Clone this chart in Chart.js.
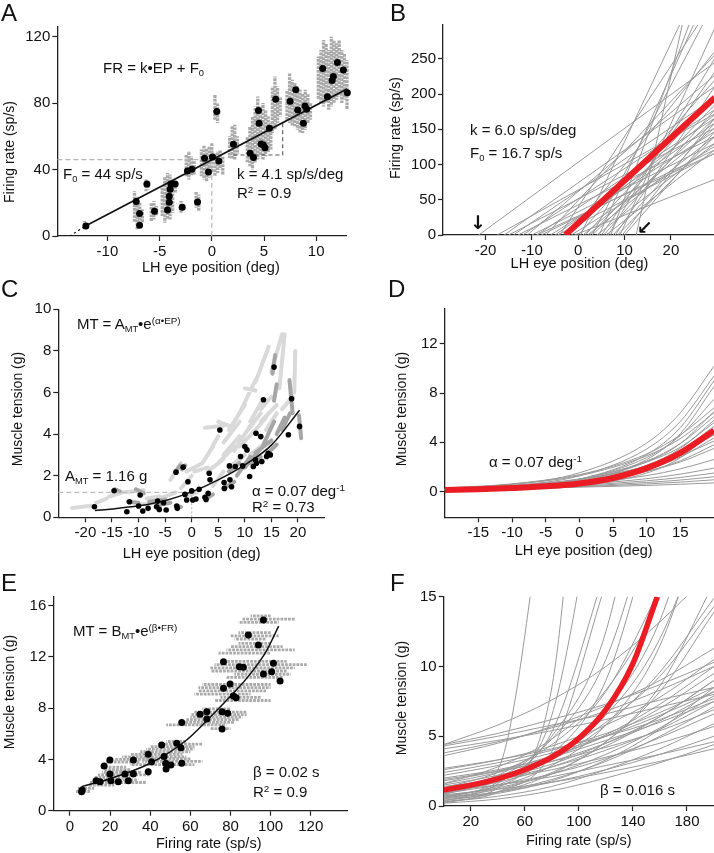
<!DOCTYPE html>
<html><head><meta charset="utf-8">
<script src="https://cdn.jsdelivr.net/npm/chart.js@4"></script>
<style>
html,body{margin:0;padding:0;background:#fff}
body{width:714px;height:853px;position:relative;overflow:hidden;font-family:"Liberation Sans",Arial,sans-serif;color:#111}
canvas{position:absolute}
.t{position:absolute;white-space:nowrap;line-height:18px;font-size:15px;transform:translateY(-50%)}
.lbl{position:absolute;font-size:24px;line-height:24px}
.yt{position:absolute;white-space:nowrap;font-size:14px;transform:translate(-50%,-50%) rotate(-90deg)}
.xt{position:absolute;white-space:nowrap;font-size:14.5px;transform:translate(-50%,-50%)}
.ar{position:absolute;font-family:"DejaVu Sans",sans-serif;font-size:19px;line-height:19px;font-weight:bold;transform:translate(-50%,-50%)}
sub{font-size:0.62em;vertical-align:-0.3em;line-height:0}
sup{font-size:0.66em;vertical-align:0.55em;line-height:0}
</style></head><body>
<canvas id="cA"></canvas><canvas id="cB"></canvas><canvas id="cC"></canvas>
<canvas id="cD"></canvas><canvas id="cE"></canvas><canvas id="cF"></canvas>
<script>
// ---------------- Panel A data ----------------
const aTicksX = [-10, -5, 0, 5, 10];
const aTicksY = [0, 40, 80, 120];
const aDotX = [-12.06,-7.24,-6.92,-6.92,-6.22,-5.49,-4.24,-4.08,-4.08,-3.99,-3.92,-3.51,-2.84,-2.33,-1.91,-1.37,-0.70,-0.32,0.06,0.48,0.67,2.07,3.67,3.99,4.47,4.53,4.72,4.94,5.10,5.52,6.12,7.50,8.04,8.23,8.77,8.93,9.09,10.62,11.07,11.52,11.64,12.03,12.60,12.98,12.98,13.49];
const aDotY = [6.0,20.7,13.5,6.4,31.3,14.9,15.7,20.3,23.9,28.1,31.3,31.3,17.3,39.2,40.2,20.5,46.8,38.6,47.6,74.9,45.2,55.2,49.8,47.2,75.5,67.9,55.4,54.8,53.2,64.9,82.3,81.1,88.0,75.9,67.9,78.3,76.3,100.8,83.9,93.6,96.0,104.4,100.0,86.3,89.6,96.8];
const aGrayStrips = [ // [eye position, low FR, high FR]
[-12.2,4,9],[-11.95,5,8],
[-7.4,8,27],[-7.15,4,24],[-6.9,6,20],[-6.65,8,16],[-6.3,27,34],[-6.1,28,33],
[-5.8,9,20],[-5.55,10,21],[-5.3,12,18],
[-4.75,12,30],[-4.5,8,36],[-4.25,10,38],[-4.0,10,37],[-3.75,14,34],[-3.5,26,33],
[-2.95,14,21],[-2.7,15,19],[-2.45,36,49],[-2.2,34,51],[-1.95,36,48],[-1.7,37,45],
[-1.5,17,27],[-1.25,15,25],
[-1.0,36,52],[-0.75,34,55],[-0.5,33,53],[-0.25,35,54],[0.0,38,56],
[0.3,70,85],[0.55,68,80],[0.3,36,50],[0.55,38,51],[0.8,40,52],[1.05,37,48],
[1.7,47,60],[1.95,46,66],[2.2,46,67],[2.45,49,60],
[3.4,44,60],[3.65,42,66],[3.9,40,72],[4.15,44,78],[4.4,46,84],[4.65,48,78],[4.9,46,80],[5.15,48,76],[5.4,50,72],[5.65,52,68],
[5.8,62,90],[6.05,64,96],[6.3,68,90],[6.55,72,84],
[7.2,70,88],[7.45,68,98],[7.7,66,94],[7.95,66,92],[8.2,64,90],[8.45,62,88],[8.7,62,86],[8.95,64,88],[9.2,68,86],[9.45,70,80],
[10.2,82,108],[10.45,80,112],[10.7,78,118],[10.95,80,116],[11.2,76,112],[11.45,78,120],[11.7,80,118],[11.95,82,116],[12.2,84,118],[12.45,80,112],[12.7,82,110],[12.95,76,106]
];
const aFitX = [-12.1, 13.1];
const aFitY = [6, 89];
const aExtX = [-13.6, -12.1];
const aExtY = [0, 6];
const aRefHX = [-14.8, 0], aRefHY = [46, 46];
const aRefVX = [0, 0], aRefVY = [0, 46];
const aTriX = [2.07, 6.79, 6.79], aTriY = [48.8, 48.8, 67.9];

// ---------------- Panel B data ----------------
const bTicksX = [-20, -10, 0, 10, 20];
const bTicksY = [0, 50, 100, 150, 200, 250];
const bStartX = [-21.5,-17.5,-16,-15,-14,-13,-12,-11,-10,-9,-9,-8,-7,-6,-5,-4.5,-4,-3,-2,-1.5,-0.8,0,0.5,1,1.5,2,2.5,3,3,4,4.5,5,5.5,6,6.5,7,7.5,8,8.5,9,9.5,10,12.5];
const bEndX = [29.5,29.5,29.5,29.5,29.5,29.5,29.5,29.5,29.5,29.5,29.5,29.5,29.5,29.5,29.5,29.5,26,29.5,29.5,29.5,29.5,29.5,22,29.5,29.5,29.5,29.5,27,29.5,29.5,25,29.5,29.5,29.5,29.5,24,29.5,29.5,29.5,29.5,29.5,29.5,22.5];
const bEndY = [245,172,211,152,195,140,178,227,130,166,116,121,256,147,159,116,300,171,261,126,79,220,300,152,197,140,185,300,166,130,300,232,178,121,251,300,159,211,140,294,166,147,300];
const bMeanX = [-2.8, 29.5];
const bMeanY = [0, 195];

// ---------------- Panel C data ----------------
const cTicksX = [-20, -15, -10, -5, 0, 5, 10, 15, 20];
const cTicksY = [0, 2, 4, 6, 8, 10];
const cDotX = [-18.3,-14.6,-12.2,-11.7,-9.7,-10.0,-9.2,-8.2,-6.6,-6.4,-6.1,-5.3,-4.8,-2.95,-2.8,-2.7,-1.6,-1.26,-0.7,0,0.2,-0.94,0.8,1.4,2.5,2.7,3.3,3.45,3.1,5.3,6.1,6.15,7.1,7.2,7.5,8.2,9.2,9.6,10.0,10.4,10.9,11.6,12.0,12.1,12.2,13.0,13.2,13.5,14.1,14.4,14.8,15.5,18.2,18.8,20.3];
const cDotY = [0.51,1.28,0.27,0.75,1.07,0.54,0.30,0.43,0.51,0.78,0.38,0.70,0.35,2.17,0.54,0.43,2.41,1.1,1.71,1.27,0.83,0.83,0.88,1.35,0.96,0.86,2.12,1.80,1.15,4.2,1.67,1.39,2.47,1.8,1.47,2.44,2.92,2.47,3.40,3.24,1.96,2.44,2.76,4.04,2.6,3.88,2.68,5.65,2.92,3.08,3.0,7.22,3.97,5.70,4.37];
const cFitX = [-18.2,-15,-10,-5,0,5,10,15,20.3];
const cFitY = [0.33,0.40,0.55,0.80,1.22,1.80,2.52,3.47,5.15];
const cLightSegs = [ // [x0,y0,x1,y1]
[-22.5,0.45,-19,0.55],[-18,0.7,-16,0.9],[-15.5,1.0,-13,1.2],[-12.5,1.2,-9,1.3],[-10,0.6,-7,0.7],
[-8.5,0.9,-6,1.0],[-6,0.9,-3,1.2],[-4,1.8,-2,2.6],[-2,1.4,0,2.0],[-1,1.0,1,1.2],[-1,2.2,2,2.6],
[0.5,2.2,3,2.4],[2,2.6,4,3.4],[3,3.0,5,3.9],[2.5,4.3,6,4.4],[5,4.6,8,4.3],[4,1.5,6,2.2],[3,2.2,6,2.8],
[5,2.6,8,3.4],[6,3.0,9,3.9],[6,3.6,9,4.6],[7,4.2,10,5.4],[8,3.2,11,4.4],[7,2.4,10,3.0],
[9,3.4,12,4.2],[10,4.0,13,5.0],[11,3.0,14,3.6],[12,4.2,14,4.8],[13,4.6,16,5.4],
[9,5.0,12,6.6],[10,6.2,12,6.1],[11,4.6,13,5.5],[12,6.5,14.5,8.2],[13,5.2,15,5.8],
[15,7.0,17,8.8],[16.5,6.2,17.5,8.8],[19.3,6.0,19.5,8.0],[17,5.2,19,5.8],[14,4.2,16,5.0]
];
const cDarkSegs = [
[-10.5,1.35,-9,1.15],[-14.5,1.35,-13.5,1.25],[-12,0.75,-10,0.7],[-8,0.75,-5,0.85],[-6,0.6,-4,0.7],
[-3,0.55,-2,0.5],[-3,2.2,-2.2,2.5],[-1.8,2.3,-1.2,2.5],[2.8,0.9,4,1.1],[6,1.4,8,1.7],
[7,2.2,9,2.6],[8.5,2.0,11,2.9],[10,2.4,13,3.3],[11,2.6,13,2.9],[12,3.1,15,3.7],[13.5,3.5,15.5,4.6],
[14,3.0,16,3.5],[16,4.0,17.5,4.8],[17,4.2,18.5,5.0],[15.5,5.6,16,6.4],[15.2,6.9,15.7,7.8],
[18.4,6.6,19,5.0],[20.2,4.9,20.6,3.8]
];
const cRefHX = [-25.1, 0], cRefHY = [1.2, 1.2];
const cRefVX = [0, 0], cRefVY = [0, 1.2];

// ---------------- Panel D data ----------------
const dTicksX = [-15, -10, -5, 0, 5, 10, 15];
const dTicksY = [0, 4, 8, 12];
const dX = [-20, -10, 0, 10, 15, 20];
const dCurves = [
[0.23,0.59,1.52,3.94,6.4,10.2],[0.17,0.47,1.27,3.46,5.7,9.4],[0.11,0.33,1.0,3.0,5.2,9.0],
[0.07,0.23,0.78,2.6,4.7,8.55],[0.14,0.37,1.0,2.76,4.55,7.5],[0.28,0.62,1.37,3.05,4.6,6.8],
[0.12,0.32,0.88,2.4,3.9,6.5],[0.26,0.58,1.29,2.9,4.3,6.4],[0.17,0.41,1.0,2.48,3.9,6.1],
[0.11,0.29,0.78,2.13,3.5,5.8],[0.18,0.43,1.0,2.4,3.6,5.6],[0.12,0.31,0.79,2.05,3.3,5.3],
[0.04,0.14,0.45,1.5,2.74,5.0],[0.09,0.24,0.65,1.77,2.9,4.8],[0.19,0.42,0.93,2.07,3.1,4.6],
[0.12,0.29,0.72,1.77,2.8,4.35],[0.25,0.5,1.01,2.04,2.9,4.1],[0.13,0.3,0.69,1.63,2.5,3.8],
[0.17,0.37,0.78,1.65,2.4,3.5],[0.16,0.32,0.64,1.29,1.84,2.6],[0.17,0.31,0.57,1.04,1.41,1.9],
[0.17,0.29,0.5,0.87,1.14,1.5],[0.16,0.27,0.44,0.73,0.93,1.2],[0.16,0.25,0.39,0.61,0.76,0.95],
[0.17,0.25,0.35,0.49,0.59,0.7]
];
const dMeanX = [-20,-15,-10,-5,0,5,10,15,20];
const dMeanY = [0.12,0.18,0.28,0.42,0.65,1.1,1.9,3.15,4.95];

// ---------------- Panel E data ----------------
const eTicksX = [0, 20, 40, 60, 80, 100, 120];
const eTicksY = [0, 4, 8, 12, 16];
const eDotX = [5.8,6.1,13.0,15.0,17.0,19.9,19.9,20.4,24.1,27.4,29.1,31.6,31.6,39.0,39.0,40.7,45.7,46.9,47.7,47.9,50.3,53.2,55.3,55.7,55.7,64.8,68.2,68.2,75.8,75.8,78.6,76.5,76.5,79.8,81.4,82.8,84.4,86.4,88.9,93.9,96.4,96.4,100.5,101.4,104.7];
const eDotY = [1.48,1.61,2.34,2.26,3.49,3.95,2.86,2.34,2.26,2.86,2.34,3.95,2.86,4.40,3.04,3.82,5.13,4.22,3.70,3.25,3.57,5.26,4.92,3.70,6.89,7.52,7.73,7.16,7.73,6.37,7.60,9.55,11.63,9.89,8.95,8.82,11.24,11.19,13.71,12.93,14.88,10.67,10.85,11.50,10.12];
const eGrayStrips = [ // [tension, low FR, high FR]
[1.5,3,10],[1.75,4,12],[2.0,9,22],[2.2,10,38],[2.4,12,34],[2.6,12,30],[2.8,14,40],[3.0,16,36],[3.2,17,30],[3.4,16,28],
[3.6,30,62],[3.8,18,35],[3.85,36,66],[4.0,22,40],[4.05,36,60],[4.2,26,58],[4.4,30,56],[4.6,35,60],[4.8,38,62],[5.0,40,62],
[5.2,44,66],[5.4,48,58],[6.4,70,80],[6.7,48,78],[6.9,55,82],[7.1,58,84],[7.3,60,86],[7.5,60,88],[7.7,62,88],[7.95,66,80],
[8.6,72,100],[8.85,75,95],[9.1,62,90],[9.35,64,98],[9.6,64,100],[9.85,66,100],[10.4,78,106],[10.65,82,110],
[10.9,70,108],[11.15,70,112],[11.4,72,118],[11.65,78,108],[12.3,74,100],[12.55,78,112],[12.8,80,106],[13.05,84,100],
[13.4,82,98],[13.65,80,104],[13.9,84,100],[14.7,84,104],[14.95,86,112],[15.2,90,100]
];
const eFitX = [5.8,20,40,58,68,81,90,98,104];
const eFitY = [1.88,2.5,3.7,5.5,7.0,9.1,10.7,12.5,14.4];

// ---------------- Panel F data ----------------
const fTicksX = [20, 60, 100, 140, 180];
const fTicksY = [0, 5, 10, 15];
const fX = [0, 40, 80, 120, 160, 200];
const fCurves = [
[4.4,5.2,6.2,7.3,8.7,10.3],[4.3,5.0,5.8,6.6,7.6,8.5],[4.1,4.7,5.4,6.2,7.1,8.0],[3.8,4.6,5.6,6.8,8.3,10.0],
[3.6,4.5,5.7,7.2,9.0,11.3],[4.4,5.8,7.6,10,13.2,17],
[0.35,2.6,26],[0.2,1.3,8.5,55],[0.5,1.6,6.5,27],[0.6,1.7,5.3,17],[0.3,1.0,3.9,16],
[0.8,2.0,5.0,12.5,31],[1.0,2.2,4.8,10.5,23],[0.6,1.5,3.7,9.0,22],[1.3,2.4,4.4,8.2,15.5],
[1.6,2.8,4.8,8.3,15,27],[0.9,1.8,3.5,6.9,13.3,26],[1.1,2.0,3.6,6.5,12,22],[0.7,1.4,2.9,5.8,11.5,23],
[0.6,1.2,2.4,4.6,8.6,16],[1.2,2.1,3.6,6.0,9.3,14.3],[0.4,1.0,2.3,4.6,8.2,13.9],[0.9,1.8,3.3,5.8,9.6,14.9],
[2.6,3.3,4.3,5.8,7.8,10.5],[1.8,2.5,3.6,5.0,7.0,9.5],[1.0,1.7,2.8,4.3,6.4,9.0],[2.4,3.1,4.0,5.2,6.7,8.5],
[1.5,2.2,3.2,4.5,6.1,8.2],[0.7,1.3,2.3,3.7,5.6,7.9],[2.7,3.3,4.1,5.0,6.2,7.7],[1.2,1.9,2.8,4.0,5.5,7.5],
[0.5,1.0,1.9,3.2,5.0,7.1],[1.9,2.5,3.2,4.2,5.4,6.9],[0.9,1.5,2.3,3.4,4.9,6.6],[0.3,0.7,1.4,2.6,4.1,5.9],
[1.4,1.9,2.6,3.5,4.5,5.7],[0.6,1.0,1.7,2.6,3.7,5.0],[1.1,1.5,2.1,2.9,3.7,4.6],[0.2,0.5,1.1,2.0,3.1,4.4],
[0.8,1.2,1.7,2.4,3.2,4.1],[2.2,2.9,3.8,5.0,6.5,8.2],[1.6,2.4,3.5,5.1,7.3,10.0],[0.4,0.9,1.8,3.3,5.5,8.5],
[2.0,2.6,3.5,4.7,6.0,7.5],[1.3,2.0,3.0,4.5,6.4,9.0]
];
const fMeanX = [0,20,40,60,80,100,120,140,158];
const fMeanY = [1.15,1.5,1.95,2.6,3.5,4.85,6.9,10.2,15];

// ---------------- helpers ----------------
const FONT = '"Liberation Sans", Arial, sans-serif';
const RED = 'rgb(236,28,36)';
const pts = (xs, ys) => xs.map((x, i) => ({x, y: ys[i]}));
function lineDS(data, color, width, order, extra) {
  return Object.assign({data, showLine: true, borderColor: color, backgroundColor: color, borderWidth: width,
    pointRadius: 0, pointHoverRadius: 0, fill: false, order, tension: 0}, extra || {});
}
function dotsDS(xs, ys, r, order) {
  return {data: pts(xs, ys), showLine: false, pointRadius: r, pointHoverRadius: r, pointBorderWidth: 0,
    pointBackgroundColor: '#000', backgroundColor: '#000', borderColor: '#000', order, clip: false};
}
function segs(list) { const d = []; list.forEach(s => { d.push({x: s[0], y: s[1]}, {x: s[2], y: s[3]}, {x: s[0], y: null}); }); return d; }
// each cluster strip is its own dataset, with a shifted dot pattern so the dots do not line up
function vStripSets(list, color, width, order) {
  return list.map((s, i) => lineDS([{x: s[0], y: s[1]}, {x: s[0], y: s[2]}], color, width, order,
    {clip: false, borderDash: [2.8, 0.9], borderDashOffset: (i * 1.37) % 3.7}));
}
function hStripSets(list, color, width, order) {
  return list.map((s, i) => lineDS([{x: s[1], y: s[0]}, {x: s[2], y: s[0]}], color, width, order,
    {borderDash: [2.8, 1.0], borderDashOffset: (i * 1.37) % 3.8}));
}

function axis(min, max, ticks, isX, size) {
  return {
    type: 'linear', min, max,
    afterBuildTicks: s => { s.ticks = ticks.map(v => ({value: v})); },
    afterFit: s => { if (isX) s.height = size; else s.width = size; },
    grid: {display: true, drawOnChartArea: false, drawTicks: true, tickLength: 5, tickColor: '#222', tickWidth: 1.2, color: '#222'},
    border: {display: true, color: '#222', width: 1.3},
    ticks: {color: '#111', font: {family: FONT, size: 15}, padding: 2, maxRotation: 0, autoSkip: false},
    title: {display: false}
  };
}
function makeChart(id, box, area, xr, yr, xt, yt, datasets) {
  const cv = document.getElementById(id);
  cv.width = box.w; cv.height = box.h;
  Object.assign(cv.style, {left: box.x + 'px', top: box.y + 'px', width: box.w + 'px', height: box.h + 'px'});
  return new Chart(cv, {
    type: 'scatter',
    data: {datasets},
    options: {
      responsive: false, animation: false, devicePixelRatio: 1, events: [],
      layout: {padding: {left: 0, top: area.top, right: box.w - area.right, bottom: 0}},
      plugins: {legend: {display: false}, tooltip: {enabled: false}},
      scales: {x: axis(xr[0], xr[1], xt, true, box.h - area.bottom), y: axis(yr[0], yr[1], yt, false, area.left)}
    }
  });
}

// ---------------- Panel A ----------------
makeChart('cA', {x: 0, y: 0, w: 357, h: 280}, {left: 57.3, top: 26.7, right: 346.7, bottom: 236},
  [-14.8, 12.92], [0, 126], aTicksX, aTicksY, [
    dotsDS(aDotX, aDotY, 3.5, 0),
    lineDS(pts(aFitX, aFitY), '#111', 1.6, 1),
    lineDS(pts(aExtX, aExtY), '#111', 1.3, 1, {borderDash: [2, 3]}),
    lineDS(pts(aTriX, aTriY), '#555', 1.1, 2, {borderDash: [4, 3]}),
    lineDS(pts(aRefHX, aRefHY), '#b5b5b5', 1.1, 3, {borderDash: [5, 3]}),
    lineDS(pts(aRefVX, aRefVY), '#b5b5b5', 1.1, 3, {borderDash: [5, 3]}),
    ...vStripSets(aGrayStrips, '#a9a9a9', 3.3, 6)
  ]);

// ---------------- Panel B ----------------
const bLines = bStartX.map((x0, i) => lineDS([{x: x0, y: 0}, {x: bEndX[i], y: bEndY[i]}], '#9a9a9a', 1, 5));
makeChart('cB', {x: 357, y: 0, w: 357, h: 280}, {left: 86, top: 25, right: 710, bottom: 235},
  [-29.2, 29.3], [0, 298], bTicksX, bTicksY, [
    lineDS(pts(bMeanX, bMeanY), RED, 6, 0),
    ...bLines
  ]);

// ---------------- Panel C ----------------
makeChart('cC', {x: 0, y: 280, w: 357, h: 290}, {left: 58.3, top: 29.3, right: 324, bottom: 237.3},
  [-25.1, 24.9], [0, 10], cTicksX, cTicksY, [
    dotsDS(cDotX, cDotY, 2.8, 0),
    lineDS(pts(cFitX, cFitY), '#111', 1.5, 1, {cubicInterpolationMode: 'monotone'}),
    lineDS(pts(cRefHX, cRefHY), '#bdbdbd', 1.1, 3, {borderDash: [5, 3]}),
    lineDS(pts(cRefVX, cRefVY), '#bdbdbd', 1.1, 3, {borderDash: [2, 2]}),
    lineDS(segs(cDarkSegs), '#a6a6a6', 4, 5, {borderCapStyle: 'round'}),
    lineDS(segs(cLightSegs), '#d9d9d9', 4, 6, {borderCapStyle: 'round'})
  ]);

// ---------------- Panel D ----------------
const dLines = dCurves.map(c => lineDS(pts(dX, c), '#9a9a9a', 1, 5, {cubicInterpolationMode: 'monotone'}));
makeChart('cD', {x: 357, y: 280, w: 357, h: 290}, {left: 87.7, top: 28.3, right: 710.3, bottom: 237.3},
  [-20, 20], [-2.1, 14.9], dTicksX, dTicksY, [
    lineDS(pts(dMeanX, dMeanY), RED, 6, 0, {cubicInterpolationMode: 'monotone'}),
    ...dLines
  ]);

// ---------------- Panel E ----------------
makeChart('cE', {x: 0, y: 570, w: 357, h: 283}, {left: 53.3, top: 26.7, right: 347.7, bottom: 240.7},
  [-8.3, 138.4], [0, 16.7], eTicksX, eTicksY, [
    dotsDS(eDotX, eDotY, 3.5, 0),
    lineDS(pts(eFitX, eFitY), '#111', 1.5, 1, {cubicInterpolationMode: 'monotone'}),
    ...hStripSets(eGrayStrips, '#ababab', 2.8, 6)
  ]);

// ---------------- Panel F ----------------
const fLines = fCurves.map(c => lineDS(pts(fX.slice(0, c.length), c), '#9a9a9a', 1, 5, {cubicInterpolationMode: 'monotone'}));
makeChart('cF', {x: 357, y: 570, w: 357, h: 283}, {left: 86.7, top: 26.7, right: 710.3, bottom: 236},
  [0, 200], [0, 15], fTicksX, fTicksY, [
    lineDS(pts(fMeanX, fMeanY), RED, 5.5, 0, {cubicInterpolationMode: 'monotone'}),
    ...fLines
  ]);

// ---------------- text ----------------
function put(cls, html, x, y) {
  const d = document.createElement('div'); d.className = cls; d.innerHTML = html;
  d.style.left = x + 'px'; d.style.top = y + 'px'; document.body.appendChild(d);
}
[['A', 1, 1], ['B', 390, 1], ['C', 1, 277], ['D', 388, 277], ['E', 1, 571], ['F', 390, 571]]
  .forEach(l => put('lbl', l[0], l[1], l[2]));
// axis titles
put('xt', 'LH eye position (deg)', 210.8, 266.7);
put('yt', 'Firing rate (sp/s)', 8.5, 151.7);
put('xt', 'LH eye position (deg)', 579.5, 263.3);
put('yt', 'Firing rate (sp/s)', 395, 127.5);
put('xt', 'LH eye position (deg)', 191.7, 552.5);
put('yt', 'Muscle tension (g)', 16.5, 409);
put('xt', 'LH eye position (deg)', 583.7, 550);
put('yt', 'Muscle tension (g)', 400.5, 409);
put('xt', 'Firing rate (sp/s)', 208.7, 843.3);
put('yt', 'Muscle tension (g)', 9.2, 691.7);
put('xt', 'Firing rate (sp/s)', 578.7, 840);
put('yt', 'Muscle tension (g)', 400.5, 697.5);
// annotations
put('t', 'FR = k•EP + F<sub>0</sub>', 103, 68);
put('t', 'F<sub>0</sub> = 44 sp/s', 63, 174);
put('t', 'k = 4.1 sp/s/deg', 237, 174);
put('t', 'R<sup>2</sup> = 0.9', 237, 193);
put('t', 'k = 6.0 sp/s/deg', 470, 130);
put('t', 'F<sub>0</sub> = 16.7 sp/s', 470, 153);
put('ar', '↓', 478, 221.5);
put('ar', '↙', 644.5, 227);
put('t', 'MT = A<sub>MT</sub>•e<sup>(α•EP)</sup>', 77, 324);
put('t', 'A<sub>MT</sub> = 1.16 g', 65, 476);
put('t', 'α = 0.07 deg<sup>-1</sup>', 252, 491);
put('t', 'R<sup>2</sup> = 0.73', 252, 507);
put('t', 'α = 0.07 deg<sup>-1</sup>', 489, 462);
put('t', 'MT = B<sub>MT</sub>•e<sup>(β•FR)</sup>', 73, 631);
put('t', 'β = 0.02 s', 253, 772);
put('t', 'R<sup>2</sup> = 0.9', 253, 792);
put('t', 'β = 0.016 s', 600, 790);
</script>
</body></html>
